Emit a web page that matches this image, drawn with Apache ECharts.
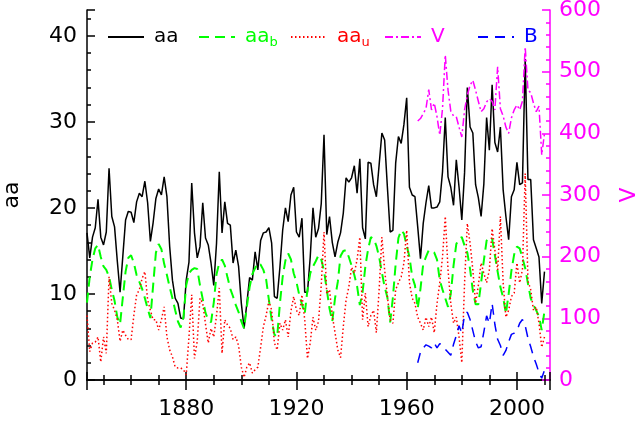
<!DOCTYPE html>
<html>
<head>
<meta charset="utf-8">
<script src="https://cdn.jsdelivr.net/npm/echarts@6/dist/echarts.min.js"></script>
<style>
  html, body { margin: 0; padding: 0; background: #fff; }
  #chart { width: 636px; height: 425px; }
</style>
</head>
<body>
<div id="chart"></div>
<script>
  // yearly values, aa series start 1844, V and B start 1964
  var aaStart = 1844
  var swStart = 1964

  var aa = [
    17.1, 14.2, 16.6, 17.7, 21.0, 16.6, 15.7, 17.2, 24.6, 19.0,
    17.8, 13.8, 10.2, 14.4, 18.6, 19.6, 19.5, 18.3, 20.7, 21.7,
    21.3, 23.1, 20.6, 16.1, 18.3, 21.1, 22.2, 21.5, 23.6, 21.3,
    15.5, 11.6, 9.5, 8.9, 7.2, 7.1, 11.6, 13.7, 22.9, 17.1,
    14.2, 15.5, 20.6, 16.5, 15.7, 13.6, 11.0, 15.9, 24.2, 17.1,
    20.7, 18.2, 18.0, 13.6, 15.1, 13.2, 8.9, 6.0, 8.9, 11.9,
    11.6, 14.9, 12.8, 16.2, 17.1, 17.2, 17.7, 15.9, 9.7, 9.5,
    13.1, 17.4, 20.0, 18.4, 21.5, 22.4, 17.2, 16.6, 18.8, 10.2,
    10.2, 14.3, 20.0, 16.6, 17.6, 20.5, 28.5, 16.9, 19.0, 16.0,
    14.3, 16.0, 17.1, 19.4, 23.5, 23.0, 23.5, 24.9, 21.7, 25.7,
    17.7, 16.4, 25.3, 25.2, 22.7, 21.3, 25.0, 28.7, 27.9, 22.4,
    17.2, 17.4, 25.2, 28.3, 27.5, 29.7, 32.8, 22.4, 21.5, 21.3,
    17.8, 14.1, 18.2, 20.6, 22.6, 20.0, 20.0, 20.1, 20.7, 24.2,
    30.5, 23.6, 22.4, 20.3, 25.6, 22.4, 18.6, 24.1, 34.0, 29.4,
    28.7, 22.7, 21.2, 19.0, 22.8, 30.5, 26.7, 34.3, 27.6, 26.5,
    29.4, 22.1, 19.0, 16.3, 21.3, 22.1, 25.3, 22.7, 22.9, 37.3,
    23.3, 23.3, 16.3, 15.3, 14.3, 8.9, 12.6
  ]
  var aaB = [
    9.0, 12.0, 14.0, 15.3, 15.7, 14.3, 13.2, 12.8, 12.0, 10.5,
    9.2, 7.3, 6.5, 9.6, 12.6, 14.2, 14.5, 13.6, 12.2, 11.4,
    10.6, 9.5, 8.3, 7.2, 11.0, 14.8, 15.8, 15.2, 13.5, 12.2,
    10.8, 9.5, 8.1, 6.8, 6.1, 7.3, 11.0, 12.4, 12.8, 13.0,
    12.9, 11.0, 9.4, 7.8, 7.0, 6.7, 9.0, 12.3, 13.6, 14.0,
    13.3, 11.9, 10.6, 9.7, 8.7, 7.9, 6.8, 6.0, 8.5, 10.8,
    12.3, 13.0, 13.6, 13.4, 12.8, 11.7, 9.3, 7.0, 5.3, 5.0,
    8.9, 12.0, 13.9, 14.7, 14.0, 12.4, 11.4, 9.9, 8.8, 7.7,
    10.5, 12.4, 13.2, 13.8, 14.5, 14.0, 12.7, 10.5, 8.3, 6.8,
    9.5, 11.4, 14.4, 15.0, 15.1, 14.3, 13.3, 12.2, 10.9, 8.7,
    10.2, 13.2, 15.2, 16.6, 16.4, 15.6, 14.3, 12.5, 10.8, 9.6,
    6.7, 9.6, 13.5, 16.5, 17.4, 17.0, 15.6, 14.3, 12.0, 11.0,
    8.3, 10.6, 13.5, 14.3, 15.1, 15.0, 14.8, 14.0, 11.6, 10.5,
    9.5, 8.5, 10.0, 13.3, 15.8, 16.4, 16.6, 15.6, 14.8, 12.9,
    10.4, 8.8, 8.8, 11.3, 13.9, 16.2, 16.6, 16.4, 14.5, 12.6,
    10.8, 9.6, 7.7, 10.0, 12.7, 14.6, 15.5, 15.3, 14.2, 13.0,
    11.2, 9.5, 8.7, 8.1, 7.4, 5.8, 8.0
  ]
  var aaU = [
    7.5, 3.3, 4.3, 4.4, 5.0, 2.1, 5.0, 3.1, 12.0, 8.9,
    8.1, 7.0, 4.5, 5.8, 5.2, 4.7, 4.7, 7.5, 9.9, 10.5,
    11.8, 12.6, 9.3, 8.1, 7.0, 7.0, 5.8, 7.0, 8.5, 5.0,
    3.5, 2.7, 1.5, 1.4, 1.4, 1.2, 0.6, 5.0, 9.9, 2.5,
    4.5, 9.5, 8.9, 6.5, 4.3, 6.0, 5.0, 7.5, 10.7, 3.1,
    7.0, 6.4, 6.0, 4.7, 5.0, 4.0, 1.5, 0.3, 1.5, 2.0,
    0.8, 1.2, 1.5, 3.8, 6.2, 7.5, 9.2, 8.1, 4.3, 3.5,
    6.6, 5.8, 7.0, 5.0, 8.0, 9.7, 8.1, 7.5, 9.9, 7.0,
    2.5, 4.3, 7.3, 5.8, 6.8, 11.0, 17.2, 10.0, 10.5, 7.5,
    5.5, 3.5, 2.6, 6.2, 9.3, 10.8, 13.1, 12.4, 14.0, 16.6,
    7.0, 10.1, 6.2, 7.5, 8.1, 5.5, 10.5, 16.6, 12.8, 9.7,
    7.0, 6.6, 10.5, 11.3, 12.0, 13.6, 17.4, 11.3, 9.5, 8.9,
    7.3, 6.6, 5.8, 7.3, 6.2, 7.3, 5.5, 8.9, 11.3, 14.3,
    19.0, 12.8, 8.9, 6.6, 7.3, 5.0, 2.0, 11.3, 18.2, 15.9,
    12.8, 8.9, 11.0, 13.6, 12.4, 11.3, 12.8, 17.6, 15.1, 12.8,
    19.0, 11.3, 7.3, 8.1, 9.7, 10.1, 13.6, 11.3, 12.8, 24.0,
    11.5, 10.5, 8.1, 8.5, 6.6, 3.8, 5.0
  ]
  var vSw = [
    420, 424, 432, 440, 471, 438, 449, 427, 397, 440,
    527, 470, 436, 428, 427, 410, 394, 438, 462, 478,
    486, 470, 452, 435, 440, 451, 456, 452, 438, 508,
    440, 428, 410, 400, 425, 438, 446, 438, 452, 540,
    470, 466, 449, 435, 444, 365, 400
  ]
  var bImf = [
    28, 45, 52, 57, 55, 52, 60, 52, 59, 55,
    50, 45, 40, 58, 72, 88, 76, 106, 110, 98,
    80, 62, 52, 54, 78, 104, 92, 124, 90, 66,
    56, 40, 48, 62, 74, 76, 80, 92, 98, 88,
    68, 54, 38, 26, 12, 3, 16
  ]

  function pairs(start, vals) {
    return vals.map(function (v, i) { return [start + i, v] })
  }

  var font = 'DejaVu Sans'
  var rich = {
    m: { fontSize: 20, lineHeight: 24, fontFamily: font },
    s: { fontSize: 13, lineHeight: 14, verticalAlign: 'bottom', fontFamily: font }
  }
  function legendAt(name, left, color, txt) {
    return {
      data: [name],
      left: left,
      top: 22,
      itemWidth: 36,
      itemHeight: 14,
      itemStyle: { opacity: 0 },
      formatter: function () { return txt },
      textStyle: { color: color, padding: [0, 0, 0, 5], rich: rich }
    }
  }

  var charts = echarts.init(document.getElementById('chart'))
  var option = {
    animation: false,
    backgroundColor: '#fff',
    textStyle: { fontFamily: font },
    grid: { left: 87, right: 86, top: 10, bottom: 45, outerBoundsMode: 'none', containLabel: false },
    legend: [
      legendAt('aa', 102, '#000', '{m|aa}'),
      legendAt('aa_b', 193, '#00ff00', '{m|aa}{s|b}'),
      legendAt('aa_u', 285, '#ff0000', '{m|aa}{s|u}'),
      legendAt('V', 379, '#ff00ff', '{m|V}'),
      legendAt('B', 472, '#0000ff', '{m|B}')
    ],
    xAxis: [
      {
        type: 'value',
        min: 1844,
        max: 2012,
        splitNumber: 4,
        minInterval: 40,
        maxInterval: 40,
        axisLine: { lineStyle: { color: '#000', width: 1.5 } },
        axisTick: { inside: true, length: 8, lineStyle: { color: '#000', width: 1.5 } },
        minorTick: { show: true, splitNumber: 4, length: 5, lineStyle: { color: '#000', width: 1.5 } },
        axisLabel: {
          color: '#000', fontSize: 22, margin: 18, showMinLabel: false, showMaxLabel: false,
          formatter: function (v) { return String(v) }
        },
        splitLine: { show: false }
      },
      {
        type: 'value',
        position: 'top',
        min: 1844,
        max: 2012,
        splitNumber: 4,
        minInterval: 40,
        maxInterval: 40,
        axisLine: { lineStyle: { color: '#000', width: 1.5 } },
        axisTick: { inside: true, length: 10, lineStyle: { color: '#000', width: 1.5 } },
        minorTick: { show: true, splitNumber: 4, length: 5, lineStyle: { color: '#000', width: 1.5 } },
        axisLabel: { show: false },
        splitLine: { show: false }
      }
    ],
    yAxis: [
      {
        type: 'value',
        min: 0,
        max: 43,
        interval: 10,
        name: 'aa',
        nameLocation: 'middle',
        nameRotate: 90,
        nameGap: 64,
        nameTextStyle: { color: '#000', fontSize: 22 },
        axisLine: { show: true, lineStyle: { color: '#000', width: 1.5 } },
        axisTick: { inside: true, length: 8, lineStyle: { color: '#000', width: 1.5 } },
        minorTick: { show: true, splitNumber: 5, length: 4, lineStyle: { color: '#000', width: 1.5 } },
        axisLabel: { color: '#000', fontSize: 22, margin: 10, showMaxLabel: false },
        splitLine: { show: false }
      },
      {
        type: 'value',
        position: 'right',
        min: 0,
        max: 600,
        interval: 100,
        name: 'V',
        nameLocation: 'middle',
        nameRotate: 90,
        nameGap: 68,
        nameTextStyle: { color: '#ff00ff', fontSize: 22 },
        axisLine: { show: true, lineStyle: { color: '#ff00ff', width: 1.5 } },
        axisTick: { inside: true, length: 8, lineStyle: { color: '#ff00ff', width: 1.5 } },
        minorTick: { show: true, splitNumber: 5, length: 4, lineStyle: { color: '#ff00ff', width: 1.5 } },
        axisLabel: { color: '#ff00ff', fontSize: 22, margin: 9 },
        splitLine: { show: false }
      }
    ],
    series: [
      {
        name: 'aa', type: 'line', symbol: 'none', data: pairs(aaStart, aa),
        lineStyle: { color: '#000', width: 1.5 }, itemStyle: { color: '#000' }
      },
      {
        name: 'aa_b', type: 'line', symbol: 'none', data: pairs(aaStart, aaB),
        lineStyle: { color: '#00ff00', width: 2, type: [10, 6] }, itemStyle: { color: '#00ff00' }
      },
      {
        name: 'aa_u', type: 'line', symbol: 'none', data: pairs(aaStart, aaU),
        lineStyle: { color: '#ff0000', width: 1.5, type: [1.5, 2.5] }, itemStyle: { color: '#ff0000' }
      },
      {
        name: 'V', type: 'line', symbol: 'none', yAxisIndex: 1, data: pairs(swStart, vSw),
        lineStyle: { color: '#ff00ff', width: 1.5, type: [8, 3, 2, 3] }, itemStyle: { color: '#ff00ff' }
      },
      {
        name: 'B', type: 'line', symbol: 'none', yAxisIndex: 1, data: pairs(swStart, bImf),
        lineStyle: { color: '#0000ff', width: 1.5, type: [10, 7] }, itemStyle: { color: '#0000ff' }
      }
    ]
  }
  charts.setOption(option)
  window.addEventListener('resize', function () {
    charts.resize()
  })
</script>
</body>
</html>
